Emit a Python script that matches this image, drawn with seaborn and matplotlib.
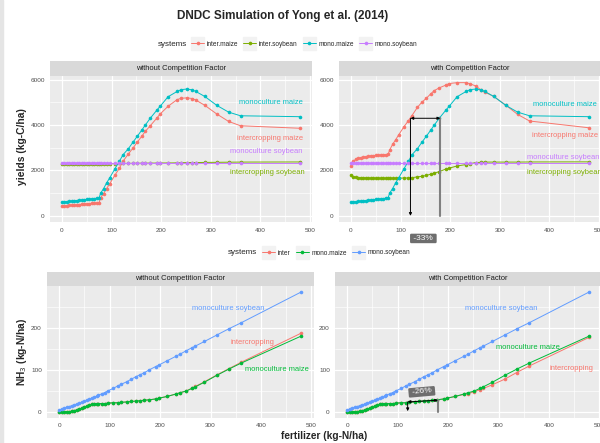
import matplotlib
matplotlib.use("Agg")
import matplotlib.pyplot as plt
import seaborn as sns
import pandas as pd
from matplotlib.lines import Line2D
from matplotlib.patches import Rectangle

# fertilizer rates (kg-N/ha)
fert = [0, 5, 10, 15, 20, 25, 30, 35, 40, 45, 50, 55, 60, 65, 70, 75,
        78, 84, 90, 96, 107, 116, 123, 134, 143, 152, 161, 168, 178, 191,
        198, 214, 232, 240, 252, 263, 270, 288, 312, 336, 360, 480]

# yields (kg-C/ha)
mono_maize_yield = [600, 612, 625, 637, 650, 662, 675, 687, 700, 712, 725, 737, 750, 762, 775, 800,
                    1000, 1200, 1450, 1660, 2080, 2410, 2690, 2960, 3240, 3510, 3780, 4000, 4300, 4650,
                    4830, 5250, 5480, 5560, 5590, 5550, 5480, 5260, 4870, 4570, 4410, 4370]
mono_soy_yield = [2340, 2340, 2340, 2340, 2340, 2340, 2340, 2340, 2340, 2340, 2340, 2340, 2340, 2340, 2340, 2340,
                  2340, 2340, 2340, 2340, 2340, 2340, 2340, 2340, 2340, 2340, 2340, 2340, 2340, 2340,
                  2340, 2340, 2340, 2340, 2340, 2340, 2340, 2340, 2340, 2340, 2340, 2340]
inter_maize_yield_nocf = [430, 440, 450, 460, 470, 480, 490, 500, 510, 520, 530, 540, 550, 560, 570, 580,
                          800, 980, 1200, 1400, 1800, 2100, 2400, 2730, 2980, 3250, 3510, 3720, 3970, 4300,
                          4490, 4830, 5120, 5180, 5200, 5170, 5100, 4870, 4490, 4160, 3970, 3860]
inter_soy_yield_nocf = [2270, 2270, 2275, 2275, 2280, 2280, 2280, 2285, 2285, 2285, 2290, 2290, 2290, 2295, 2295, 2300,
                        2300, 2300, 2300, 2305, 2305, 2310, 2310, 2310, 2315, 2315, 2320, 2320, 2325, 2325,
                        2330, 2330, 2335, 2340, 2345, 2350, 2350, 2355, 2360, 2365, 2370, 2375]
inter_maize_yield_cf = [2200, 2400, 2500, 2540, 2570, 2590, 2610, 2620, 2640, 2650, 2660, 2670, 2680, 2690, 2700, 2710,
                        2900, 3150, 3350, 3560, 3930, 4200, 4420, 4780, 5010, 5180, 5380, 5520, 5640, 5760,
                        5830, 5870, 5870, 5820, 5720, 5530, 5450, 5260, 4880, 4470, 4180, 3880]
inter_soy_yield_cf = [1800, 1730, 1700, 1690, 1680, 1675, 1670, 1665, 1660, 1660, 1655, 1655, 1650, 1650, 1650, 1650,
                      1650, 1650, 1655, 1660, 1670, 1670, 1680, 1720, 1740, 1780, 1840, 1880, 1950, 2060,
                      2100, 2200, 2260, 2300, 2350, 2360, 2370, 2370, 2370, 2370, 2375, 2380]

# NH3 volatilisation (kg-N/ha)
mono_soy_nh3 = [5, 7, 9, 11, 13, 15, 17, 19, 21, 23, 25, 28, 30, 33, 35, 38,
                40, 43, 46, 50, 56, 62, 66, 72, 78, 84, 89, 93, 100, 108,
                112, 122, 133, 138, 146, 153, 157, 168, 183, 198, 212, 286]
mono_maize_nh3 = [0, 0, 0, 1, 1, 2, 3, 5, 7, 9, 12, 14, 16, 18, 20, 20,
                  20, 20, 20, 21, 22, 22, 23, 24, 25, 26, 27, 28, 29, 31,
                  33, 37, 43, 46, 50, 56, 60, 71, 87, 102, 116, 181]
inter_nh3_nocf = [0, 0, 0, 1, 1, 2, 3, 5, 7, 9, 12, 14, 16, 18, 20, 20,
                  20, 20, 20, 21, 22, 22, 23, 24, 25, 26, 27, 28, 29, 31,
                  33, 37, 43, 46, 50, 57, 61, 72, 88, 103, 118, 188]
inter_nh3_cf = [0, 0, 0, 1, 1, 2, 3, 5, 7, 9, 12, 14, 16, 18, 20, 20,
                20, 20, 20, 21, 22, 22, 23, 24, 25, 26, 27, 28, 29, 31,
                33, 37, 42, 44, 48, 53, 56, 65, 78, 94, 109, 178]

yield_systems = ["inter.maize", "inter.soybean", "mono.maize", "mono.soybean"]
yield_colors = ["#F8766D", "#7CAE00", "#00BFC4", "#C77CFF"]
nh3_systems = ["inter", "mono.maize", "mono.soybean"]
nh3_colors = ["#F8766D", "#00BA38", "#619CFF"]


def long_df(series):
    frames = []
    for name, vals in series.items():
        frames.append(pd.DataFrame({"fert": fert, "value": vals, "systems": name}))
    return pd.concat(frames, ignore_index=True)


yield_nocf = long_df({"inter.maize": inter_maize_yield_nocf, "inter.soybean": inter_soy_yield_nocf,
                      "mono.maize": mono_maize_yield, "mono.soybean": mono_soy_yield})
yield_cf = long_df({"inter.maize": inter_maize_yield_cf, "inter.soybean": inter_soy_yield_cf,
                    "mono.maize": mono_maize_yield, "mono.soybean": mono_soy_yield})
nh3_nocf = long_df({"inter": inter_nh3_nocf, "mono.maize": mono_maize_nh3, "mono.soybean": mono_soy_nh3})
nh3_cf = long_df({"inter": inter_nh3_cf, "mono.maize": mono_maize_nh3, "mono.soybean": mono_soy_nh3})

sns.set_style("white")
plt.rcParams['font.family'] = ['Liberation Sans', 'DejaVu Sans']

W, H = 600, 443
fig = plt.figure(figsize=(6, 4.43), dpi=100)
fig.patches.append(Rectangle((0, 0), 3 / W, 1, transform=fig.transFigure, color='#E5E5E5', zorder=0))


def px_axes(l, t, r, b):
    return fig.add_axes([l / W, 1 - b / H, (r - l) / W, (b - t) / H])


def strip(ax, text, h):
    pos = ax.get_position()
    sax = fig.add_axes([pos.x0, pos.y1, pos.width, h / H])
    sax.set_facecolor('#D9D9D9')
    sax.set_xticks([])
    sax.set_yticks([])
    for s in sax.spines.values():
        s.set_visible(False)
    sax.text(0.5, 0.5, text, ha='center', va='center', fontsize=5.4, color='#1A1A1A',
             transform=sax.transAxes)


def style(ax, ylim, yticks, yminor):
    ax.set_facecolor('#EBEBEB')
    ax.set_xlim(-24, 504)
    ax.set_ylim(*ylim)
    ax.set_xticks([0, 100, 200, 300, 400, 500])
    ax.set_xticks([50, 150, 250, 350, 450], minor=True)
    ax.set_yticks(yticks)
    ax.set_yticks(yminor, minor=True)
    ax.grid(which='major', color='white', lw=0.9)
    ax.grid(which='minor', color='white', lw=0.45)
    ax.set_axisbelow(True)
    for s in ax.spines.values():
        s.set_visible(False)
    ax.tick_params(which='major', length=2.2, width=0.6, color='#333333', labelsize=4.6,
                   labelcolor='#4D4D4D', pad=1.5)
    ax.tick_params(which='minor', length=0)
    ax.set_xlabel('')
    ax.set_ylabel('')
    if ax.get_legend() is not None:
        ax.get_legend().remove()


def draw(ax, df, order, colors):
    sns.lineplot(data=df, x="fert", y="value", hue="systems", hue_order=order,
                 palette=dict(zip(order, colors)), marker='o', markersize=2.6,
                 markeredgewidth=0, linewidth=0.7, sort=False, ax=ax, legend=False)


# ---- yields ----
ax1 = px_axes(50, 76, 312, 222.5)
ax2 = px_axes(339, 76, 601, 222.5)
draw(ax1, yield_nocf, yield_systems, yield_colors)
draw(ax2, yield_cf, yield_systems, yield_colors)
for ax in (ax1, ax2):
    style(ax, (-293, 6163), [0, 2000, 4000, 6000], [1000, 3000, 5000])
strip(ax1, "without Competition Factor", 15)
strip(ax2, "with Competition Factor", 15)

ylab_fs = 5.4
ax1.text(421, 4977, "monoculture maize", color=yield_colors[2], fontsize=ylab_fs, ha='center', va='center')
ax1.text(419, 3394, "intercropping maize", color=yield_colors[0], fontsize=ylab_fs, ha='center', va='center')
ax1.text(411, 2837, "monoculture soybean", color=yield_colors[3], fontsize=ylab_fs, ha='center', va='center')
ax1.text(413, 1930, "intercropping soybean", color=yield_colors[1], fontsize=ylab_fs, ha='center', va='center')
ax2.text(431, 4918, "monoculture maize", color=yield_colors[2], fontsize=ylab_fs, ha='center', va='center')
ax2.text(432, 3561, "intercropping maize", color=yield_colors[0], fontsize=ylab_fs, ha='center', va='center')
ax2.text(428, 2593, "monoculture soybean", color=yield_colors[3], fontsize=ylab_fs, ha='center', va='center')
ax2.text(431, 1930, "intercropping soybean", color=yield_colors[1], fontsize=ylab_fs, ha='center', va='center')

# yield gap arrows
ax2.plot([180, 180], [0, 4300], color='#808080', lw=1.5, zorder=3)
ax2.annotate("", xy=(120, 4300), xytext=(180, 4300),
             arrowprops=dict(arrowstyle='<|-|>', color='black', lw=0.7, mutation_scale=4, shrinkA=0, shrinkB=0))
ax2.annotate("", xy=(120, 0), xytext=(120, 4300),
             arrowprops=dict(arrowstyle='-|>', color='black', lw=0.7, mutation_scale=4, shrinkA=0, shrinkB=0))
ax2.text(146, -995, " -33% ", color='white', fontsize=6, ha='center', va='center', clip_on=False,
         bbox=dict(boxstyle='round,pad=0.15', fc='#6E6E6E', ec='none'))

# ---- NH3 ----
ax3 = px_axes(47, 286, 313.5, 418)
ax4 = px_axes(335, 286, 601.5, 418)
draw(ax3, nh3_nocf, nh3_systems, nh3_colors)
draw(ax4, nh3_cf, nh3_systems, nh3_colors)
for ax in (ax3, ax4):
    style(ax, (-14.3, 300), [0, 100, 200], [50, 150, 250])
strip(ax3, "without Competition Factor", 14)
strip(ax4, "with Competition Factor", 14)

ax3.text(335, 247, "monoculture soybean", color=nh3_colors[2], fontsize=ylab_fs, ha='center', va='center')
ax3.text(383, 166, "intercropping", color=nh3_colors[0], fontsize=ylab_fs, ha='center', va='center')
ax3.text(431, 100, "monoculture maize", color=nh3_colors[1], fontsize=ylab_fs, ha='center', va='center')
ax4.text(306, 247, "monoculture soybean", color=nh3_colors[2], fontsize=ylab_fs, ha='center', va='center')
ax4.text(358, 154, "monoculture maize", color=nh3_colors[1], fontsize=ylab_fs, ha='center', va='center')
ax4.text(444, 104, "intercropping", color=nh3_colors[0], fontsize=ylab_fs, ha='center', va='center')

ax4.plot([180, 180], [0, 28], color='#808080', lw=1.5, zorder=3)
ax4.annotate("", xy=(120, 24), xytext=(180, 28),
             arrowprops=dict(arrowstyle='<|-|>', color='black', lw=0.7, mutation_scale=4, shrinkA=0, shrinkB=0))
ax4.annotate("", xy=(120, 2), xytext=(120, 24),
             arrowprops=dict(arrowstyle='-|>', color='black', lw=0.7, mutation_scale=4, shrinkA=0, shrinkB=0))
ax4.text(148, 48, " -26% ", color='white', fontsize=6, ha='center', va='center', rotation=5,
         bbox=dict(boxstyle='round,pad=0.15', fc='#6E6E6E', ec='none'))

# ---- titles, axis labels, legends ----
fig.text(283 / W, 1 - 16 / H, "DNDC Simulation of Yong et al. (2014)", ha='center', va='center',
         fontsize=8.5, fontweight='bold')
fig.text(22 / W, 1 - 147 / H, "yields (kg-C/ha)", rotation=90, ha='center', va='center',
         fontsize=7.4, fontweight='bold')
fig.text(22 / W, 1 - 352 / H, "NH$_3$ (kg-N/ha)", rotation=90, ha='center', va='center',
         fontsize=7.4, fontweight='bold')
fig.text(324 / W, 1 - 436 / H, "fertilizer (kg-N/ha)", ha='center', va='center',
         fontsize=7.3, fontweight='bold')


def legend(systems, colors, x_title, x_left, y):
    fig.text(x_title / W, 1 - y / H, "systems", ha='right', va='center', fontsize=5.8)
    handles = [Line2D([], [], color=c, marker='o', markersize=2.6, markeredgewidth=0, lw=0.7)
               for c in colors]
    return fig.legend(handles, systems, loc='center left', bbox_to_anchor=(x_left / W, 1 - y / H),
                      ncol=len(systems), frameon=False, fontsize=4.7, handlelength=2.0,
                      handletextpad=0.4, columnspacing=0.8, borderpad=0, borderaxespad=0)


legs = [legend(yield_systems, yield_colors, 187, 191, 44),
        legend(nh3_systems, nh3_colors, 257, 262, 253)]

# grey key boxes behind the legend handles, like ggplot's legend keys
fig.canvas.draw()
renderer = fig.canvas.get_renderer()
for leg in legs:
    for h in leg.legend_handles:
        bb = h.get_window_extent(renderer)
        cx, cy = (bb.x0 + bb.x1) / 2, (bb.y0 + bb.y1) / 2
        fig.patches.append(Rectangle(((cx - 6.5) / W, (cy - 6.5) / H), 13 / W, 13 / H,
                                     transform=fig.transFigure, color='#F2F2F2', zorder=1))

fig.savefig("out.png", dpi=100, facecolor='white')
